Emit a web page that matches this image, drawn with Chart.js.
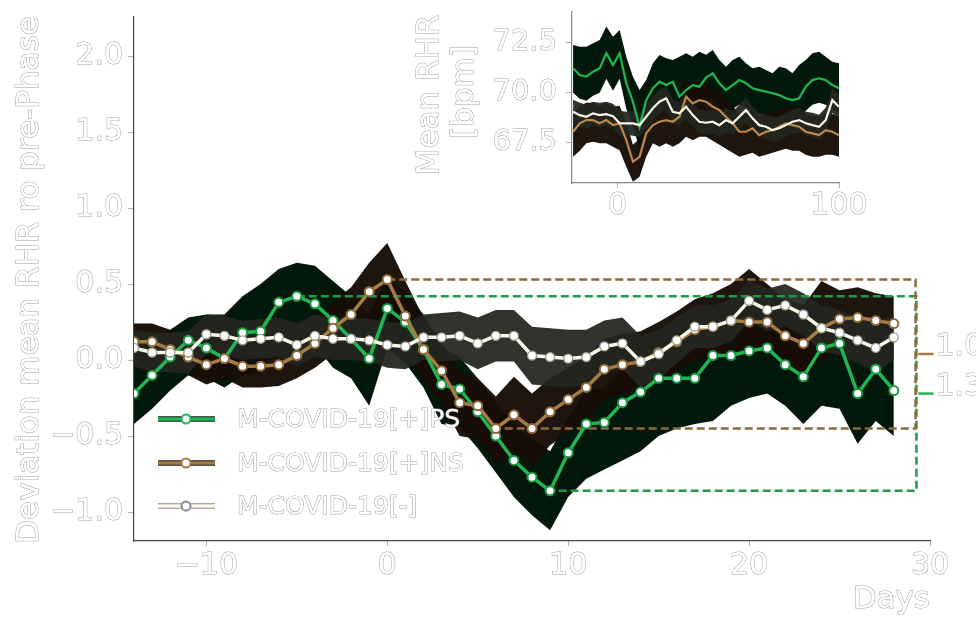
<!DOCTYPE html>
<html>
<head>
<meta charset="utf-8">
<script src="https://cdn.jsdelivr.net/npm/chart.js@4.4.1/dist/chart.umd.min.js"></script>
<style>
  body { margin: 0; background: #fff; }
  #wrap { position: relative; width: 976px; height: 630px; }
  #mainChart { position: absolute; left: 0; top: 0; }
  #insetChart { position: absolute; left: 400px; top: 0; }
</style>
</head>
<body>
<div id="wrap">
  <canvas id="mainChart" width="976" height="630"></canvas>
  <canvas id="insetChart" width="470" height="220"></canvas>
</div>
<script>
// main panel: days around symptom onset
const days = [-14,-13,-12,-11,-10,-9,-8,-7,-6,-5,-4,-3,-2,-1,0,1,2,3,4,5,6,7,8,9,10,11,12,13,14,15,16,17,18,19,20,21,22,23,24,25,26,27,28];

const psMean = [-0.22,-0.10,0.02,0.13,0.08,0.01,0.18,0.19,0.38,0.42, 0.37,0.26,0.14,0.01,0.34,0.25,0.07,-0.16,-0.19,-0.34, -0.50,-0.66,-0.77,-0.86,-0.61,-0.42,-0.41,-0.28,-0.21,-0.12, -0.12,-0.12,0.03,0.03,0.06,0.08,-0.03,-0.11,0.08,0.11, -0.22,-0.06,-0.20];
const psHigh = [0.02,0.12,0.2,0.28,0.3,0.3,0.42,0.5,0.6,0.64, 0.62,0.52,0.42,0.3,0.55,0.45,0.3,0.08,0.02,-0.12, -0.28,-0.42,-0.52,-0.6,-0.38,-0.2,-0.18,-0.05,0.02,0.1, 0.12,0.14,0.25,0.27,0.3,0.32,0.22,0.15,0.3,0.34, 0.04,0.2,0.05];
const psLow = [-0.42,-0.32,-0.2,-0.1,-0.12,-0.18,-0.1,-0.08,0.1,0.16, 0.1,-0.05,-0.12,-0.3,0.08,-0.02,-0.18,-0.42,-0.44,-0.58, -0.74,-0.9,-1.02,-1.12,-0.9,-0.78,-0.72,-0.66,-0.6,-0.5, -0.45,-0.42,-0.4,-0.3,-0.25,-0.22,-0.3,-0.42,-0.3,-0.32, -0.55,-0.4,-0.5];

const nsMean = [0.12,0.12,0.07,0.02,-0.03,0.01,-0.04,-0.04,-0.03,0.03, 0.11,0.21,0.30,0.45,0.53,0.29,0.07,-0.07,-0.28,-0.30, -0.45,-0.36,-0.45,-0.34,-0.26,-0.18,-0.06,-0.03,-0.01,0.05, 0.12,0.20,0.22,0.26,0.25,0.25,0.16,0.11,0.21,0.27, 0.28,0.26,0.24];
const nsHigh = [0.24,0.24,0.2,0.16,0.12,0.14,0.1,0.1,0.12,0.18, 0.26,0.38,0.48,0.64,0.77,0.52,0.28,0.12,-0.08,-0.12, -0.24,-0.11,-0.22,-0.12,-0.05,0.02,0.14,0.17,0.19,0.25, 0.32,0.4,0.44,0.5,0.6,0.5,0.4,0.36,0.52,0.46, 0.48,0.44,0.42];
const nsLow = [0.0,0.0,-0.06,-0.1,-0.16,-0.12,-0.18,-0.18,-0.17,-0.12, -0.05,0.04,0.12,0.26,0.3,0.06,-0.14,-0.28,-0.5,-0.52, -0.68,-0.6,-0.7,-0.56,-0.48,-0.4,-0.26,-0.22,-0.2,-0.14, -0.08,0.0,0.02,0.06,0.05,0.04,-0.04,-0.1,0.0,0.06, 0.06,0.06,0.04];

const negMean = [0.08,0.05,0.05,0.05,0.17,0.16,0.13,0.14,0.15,0.10, 0.16,0.14,0.14,0.13,0.10,0.09,0.15,0.15,0.16,0.11, 0.16,0.16,0.03,0.02,0.01,0.02,0.09,0.11,-0.01,0.04, 0.13,0.22,0.22,0.26,0.39,0.33,0.36,0.30,0.21,0.18, 0.13,0.08,0.15];
const negHigh = [0.2,0.18,0.18,0.19,0.3,0.29,0.26,0.27,0.28,0.24, 0.3,0.28,0.28,0.27,0.25,0.24,0.3,0.31,0.32,0.28, 0.33,0.33,0.22,0.21,0.2,0.2,0.26,0.28,0.16,0.2, 0.28,0.36,0.36,0.4,0.52,0.47,0.5,0.44,0.36,0.33, 0.28,0.24,0.3];
const negLow = [-0.04,-0.08,-0.08,-0.09,0.04,0.03,0.0,0.01,0.02,-0.04, 0.02,0.0,0.0,-0.01,-0.05,-0.06,0.0,-0.01,0.0,-0.06, -0.01,-0.01,-0.16,-0.17,-0.18,-0.16,-0.08,-0.06,-0.18,-0.12, -0.02,0.08,0.08,0.12,0.26,0.19,0.22,0.16,0.06,0.03, -0.02,-0.08,0.0];

const xTicks = [-10, 0, 10, 20, 30];
const yTicks = [-1.0, -0.5, 0.0, 0.5, 1.0, 1.5, 2.0];
const labels = ['M-COVID-19[+]PS', 'M-COVID-19[+]NS', 'M-COVID-19[-]'];

// inset: mean RHR over a longer window
const insetDays = [-20,-17,-14,-11,-8,-5,-2,1,4,7,10,13,16,19,22,25,28,31,34,37,40,43,46,49,52,55,58,61,64,67,70,73,76,79,82,85,88,91,94,97,100];
const insPs = [71.22,70.88,70.80,71.05,71.22,71.97,71.38,71.97,70.47,69.55, 68.3,69.63,70.22,70.55,70.38,70.55,69.80,70.13,70.38,70.30, 70.75,70.97,70.47,70.13,70.38,70.63,70.47,70.22,70.13,70.05, 69.97,69.88,69.72,69.63,69.72,70.30,70.63,70.72,70.63,70.38, 70.22];
const insPsHigh = [72.38,72.3,72.3,72.47,72.63,73.3,72.8,73.13,71.8,70.8, 70.13,70.63,71.47,71.88,71.72,71.63,71.8,71.97,71.8,72.05, 71.9,72.13,71.63,71.3,71.63,71.8,71.47,71.22,71.3,71.13, 70.97,71.3,71.22,70.97,71.38,71.63,71.97,72.05,71.8,71.55, 71.47];
const insPsLow = [70.0,69.7,69.6,69.85,70.0,70.7,70.1,70.7,69.2,68.3, 67.2,68.4,69.0,69.3,69.2,69.3,68.6,68.9,69.2,69.1, 69.5,69.7,69.3,68.9,69.2,69.4,69.3,69.0,68.9,68.9, 68.8,68.7,68.5,68.4,68.5,69.1,69.4,69.5,69.4,69.2, 69.0];
const insNs = [68.05,68.47,68.63,68.63,68.47,68.63,68.38,68.47,67.63,66.55, 66.8,67.97,68.38,68.55,68.63,68.55,68.8,69.8,69.47,69.63, 69.55,69.3,69.13,68.8,68.47,68.05,68.05,68.22,67.88,68.05, 68.13,68.3,68.47,68.38,68.3,68.05,67.97,67.88,68.13,68.05, 67.88];
const insNsHigh = [68.9,69.35,69.5,69.5,69.35,69.5,69.3,69.35,68.5,67.4, 67.7,68.85,69.25,69.45,69.5,69.45,69.7,70.7,70.35,70.5, 70.45,70.2,70.0,69.7,69.35,68.95,68.95,69.1,68.8,68.95, 69.0,69.2,69.35,69.3,69.2,68.95,68.85,68.8,69.0,68.95, 68.8];
const insNsLow = [66.8,67.1,67.47,67.55,67.47,67.47,67.3,67.13,66.3,65.55, 65.8,66.8,67.47,67.3,67.47,67.3,67.47,67.8,67.63,67.8, 67.8,67.6,67.4,67.2,67.0,66.8,66.9,67.0,66.8,66.9, 67.0,67.1,67.2,67.1,67.1,66.9,66.8,66.8,66.9,66.9, 66.8];
const insNeg = [69.05,68.88,68.80,68.97,68.88,68.93,68.83,68.47,68.47,68.47, 68.38,68.80,69.22,69.55,69.72,69.05,68.97,69.30,68.88,68.55, 68.50,68.55,68.38,68.63,68.47,68.80,69.13,68.72,68.38,68.30, 68.13,68.22,68.38,68.55,68.63,68.47,68.38,68.30,68.63,69.63, 69.30];
const insNegHigh = [69.65,69.5,69.4,69.55,69.5,69.55,69.45,69.1,69.05,69.1, 69.0,69.4,69.8,70.15,70.3,69.65,69.55,69.9,69.5,69.15, 69.1,69.15,69.0,69.25,69.05,69.4,69.75,69.3,69.0,68.9, 68.75,68.8,69.0,69.15,69.25,69.05,69.0,68.9,69.25,70.2, 69.9];
const insNegLow = [68.45,68.3,68.2,68.35,68.3,68.35,68.25,67.85,67.9,67.85, 67.8,68.2,68.6,68.95,69.1,68.45,68.4,68.7,68.3,67.95, 67.9,67.95,67.8,68.0,67.9,68.2,68.5,68.1,67.8,67.7, 67.5,67.6,67.8,67.95,68.0,67.9,67.8,67.7,68.0,69.0, 68.7];
const insXTicks = [0, 100];
const insYTicks = [67.5, 70.0, 72.5];

const GREEN = '#22b553';
const BROWN = '#a57c45';
const WHITE = '#fbf8ea';
const FONT = '"DejaVu Sans"';
const OUTLINE = '#a2a2a2';

const PS_BAND = 'rgb(2,24,11)';
const NS_BAND = 'rgba(22,13,6,0.97)';
const NEG_BAND = 'rgba(36,38,32,0.94)';

Chart.defaults.font.family = FONT;
Chart.defaults.animation = false;

const xy = (xs, ys) => xs.map((x, i) => ({ x: x, y: ys[i] }));
const minus = s => s.replace('-', '\u2212');

function band(xs, hi, lo, color, order) {
    return [
        { data: xy(xs, hi), borderWidth: 0, pointRadius: 0, backgroundColor: color, fill: '+1', order: order },
        { data: xy(xs, lo), borderWidth: 0, pointRadius: 0, fill: false, order: order }
    ];
}

function outlined(ctx, text, x, y, size, align, baseline, rot) {
    ctx.save();
    ctx.translate(x, y);
    if (rot) ctx.rotate(rot);
    ctx.font = size + 'px ' + FONT;
    ctx.textAlign = align;
    ctx.textBaseline = baseline;
    ctx.lineWidth = 1;
    ctx.strokeStyle = OUTLINE;
    ctx.strokeText(text, 0, 0);
    ctx.fillStyle = '#ffffff';
    ctx.fillText(text, 0, 0);
    ctx.restore();
}

// dashed min/max boxes
function rangeBox(vals, right) {
    const hi = Math.max(...vals), lo = Math.min(...vals);
    const xHi = days[vals.indexOf(hi)], xLo = days[vals.indexOf(lo)];
    return { hi, lo, pts: [{ x: xHi, y: hi }, { x: right, y: hi }, { x: right, y: lo }, { x: xLo, y: lo }] };
}
const psBox = rangeBox(psMean, 29.25);
const nsBox = rangeBox(nsMean, 29.2);

const tickStyle = {
    color: '#ffffff',
    textStrokeColor: OUTLINE,
    textStrokeWidth: 1,
    font: { size: 30 }
};

const mainDecor = {
    id: 'mainDecor',
    afterDraw(chart) {
        const ctx = chart.ctx;
        const xs = chart.scales.x, ys = chart.scales.y;
        outlined(ctx, 'Deviation mean RHR ro pre-Phase', 30, 280, 31, 'center', 'middle', -Math.PI / 2);
        outlined(ctx, 'Days', 930, 600, 31, 'right', 'middle');

        // range labels
        [psBox, nsBox].forEach(b => {
            const mid = (b.hi + b.lo) / 2;
            outlined(ctx, (b.hi - b.lo).toFixed(1), xs.getPixelForValue(30.3), ys.getPixelForValue(mid) + 1, 30, 'left', 'alphabetic');
        });

        // legend
        const colors = [GREEN, BROWN, WHITE];
        const rows = [419, 463, 506];
        labels.forEach((lab, i) => {
            const y = rows[i];
            ctx.save();
            ctx.lineCap = 'butt';
            ctx.beginPath();
            ctx.moveTo(158, y); ctx.lineTo(215, y);
            ctx.strokeStyle = i === 2 ? '#8c8c8c' : '#1a1a1a';
            ctx.lineWidth = 5.5;
            ctx.stroke();
            ctx.strokeStyle = colors[i];
            ctx.lineWidth = 3.5;
            ctx.stroke();
            ctx.beginPath();
            ctx.arc(186, y, 4.5, 0, Math.PI * 2);
            ctx.fillStyle = '#ffffff';
            ctx.fill();
            ctx.lineWidth = 2;
            ctx.strokeStyle = i === 2 ? '#8c8c8c' : colors[i];
            ctx.stroke();
            ctx.restore();
            outlined(ctx, lab, 237, y + 1, 25, 'left', 'middle');
        });
    }
};

new Chart(document.getElementById('mainChart'), {
    type: 'line',
    data: {
        datasets: [
            ...band(days, psHigh, psLow, PS_BAND, 16),
            ...band(days, nsHigh, nsLow, NS_BAND, 14),
            ...band(days, negHigh, negLow, NEG_BAND, 12),
            { data: psBox.pts, borderColor: '#1f9a48', borderWidth: 2.5, borderDash: [8, 4], pointRadius: 0, fill: false, clip: false, order: 7 },
            { data: nsBox.pts, borderColor: '#8d6a3c', borderWidth: 2.5, borderDash: [8, 4], pointRadius: 0, fill: false, clip: false, order: 6 },
            { data: [{ x: 29.35, y: (psBox.hi + psBox.lo) / 2 }, { x: 30.2, y: (psBox.hi + psBox.lo) / 2 }], borderColor: GREEN, borderWidth: 2.5, pointRadius: 0, clip: false, order: 6 },
            { data: [{ x: 29.35, y: (nsBox.hi + nsBox.lo) / 2 }, { x: 30.2, y: (nsBox.hi + nsBox.lo) / 2 }], borderColor: BROWN, borderWidth: 2.5, pointRadius: 0, clip: false, order: 6 },
            { label: labels[0], data: xy(days, psMean), borderColor: GREEN, borderWidth: 3.5, pointRadius: 4.5, pointBorderWidth: 2, pointBackgroundColor: '#fff', pointBorderColor: '#1c9a46', fill: false, order: 5 },
            { label: labels[1], data: xy(days, nsMean), borderColor: BROWN, borderWidth: 3.5, pointRadius: 4.5, pointBorderWidth: 2, pointBackgroundColor: '#fff', pointBorderColor: '#8d6a3c', fill: false, order: 4 },
            { label: labels[2], data: xy(days, negMean), borderColor: WHITE, borderWidth: 3.5, pointRadius: 4.5, pointBorderWidth: 1.3, pointBackgroundColor: '#fff', pointBorderColor: '#9a9a8a', fill: false, order: 3 }
        ]
    },
    options: {
        responsive: false,
        layout: { padding: { top: 17, right: 46, left: 0, bottom: 0 } },
        plugins: { legend: { display: false }, tooltip: { enabled: false } },
        elements: { line: { tension: 0 } },
        scales: {
            x: {
                type: 'linear', min: -14, max: 30,
                border: { color: '#444', width: 1.2 },
                grid: { drawOnChartArea: false, drawTicks: true, tickLength: 5, color: '#b0b0b0' },
                afterBuildTicks: s => { s.ticks = xTicks.map(v => ({ value: v })); },
                afterFit: s => { s.height = 89; s.paddingLeft = 0; s.paddingRight = 0; },
                ticks: { ...tickStyle, padding: 2, maxRotation: 0, callback: v => minus(String(v)) }
            },
            y: {
                type: 'linear', min: -1.19, max: 2.257,
                border: { color: '#444', width: 1.2 },
                grid: { drawOnChartArea: false, drawTicks: true, tickLength: 6, color: '#b0b0b0' },
                afterBuildTicks: s => { s.ticks = yTicks.map(v => ({ value: v })); },
                afterFit: s => { s.width = 134; s.paddingTop = 0; s.paddingBottom = 0; },
                ticks: { ...tickStyle, padding: 5, callback: v => minus(v.toFixed(1)) }
            }
        }
    },
    plugins: [mainDecor]
});

const insetDecor = {
    id: 'insetDecor',
    afterDraw(chart) {
        const ctx = chart.ctx;
        outlined(ctx, 'Mean RHR', 30, 95, 31, 'center', 'middle', -Math.PI / 2);
        outlined(ctx, '[bpm]', 65, 92, 31, 'center', 'middle', -Math.PI / 2);
    }
};

new Chart(document.getElementById('insetChart'), {
    type: 'line',
    data: {
        datasets: [
            ...band(insetDays, insPsHigh, insPsLow, PS_BAND, 16),
            ...band(insetDays, insNsHigh, insNsLow, NS_BAND, 14),
            ...band(insetDays, insNegHigh, insNegLow, NEG_BAND, 12),
            { data: xy(insetDays, insPs), borderColor: GREEN, borderWidth: 2.2, pointRadius: 0, fill: false, order: 5 },
            { data: xy(insetDays, insNs), borderColor: '#b98a4c', borderWidth: 2.2, pointRadius: 0, fill: false, order: 4 },
            { data: xy(insetDays, insNeg), borderColor: WHITE, borderWidth: 2.2, pointRadius: 0, fill: false, order: 3 }
        ]
    },
    options: {
        responsive: false,
        layout: { padding: { top: 12, right: 31, left: 0, bottom: 0 } },
        plugins: { legend: { display: false }, tooltip: { enabled: false } },
        elements: { line: { tension: 0 } },
        scales: {
            x: {
                type: 'linear', min: -20.5, max: 100,
                border: { color: '#888', width: 1.2 },
                grid: { drawOnChartArea: false, drawTicks: true, tickLength: 5, color: '#b0b0b0' },
                afterBuildTicks: s => { s.ticks = insXTicks.map(v => ({ value: v })); },
                afterFit: s => { s.height = 37; s.paddingLeft = 0; s.paddingRight = 0; },
                ticks: { ...tickStyle, padding: 0, maxRotation: 0, callback: v => String(v) }
            },
            y: {
                type: 'linear', min: 65.49, max: 74.03,
                border: { color: '#888', width: 1.2 },
                grid: { drawOnChartArea: false, drawTicks: true, tickLength: 6, color: '#b0b0b0' },
                afterBuildTicks: s => { s.ticks = insYTicks.map(v => ({ value: v })); },
                afterFit: s => { s.width = 172; s.paddingTop = 0; s.paddingBottom = 0; },
                ticks: { ...tickStyle, font: { size: 29 }, padding: 9, callback: v => v.toFixed(1) }
            }
        }
    },
    plugins: [insetDecor]
});
</script>
</body>
</html>
